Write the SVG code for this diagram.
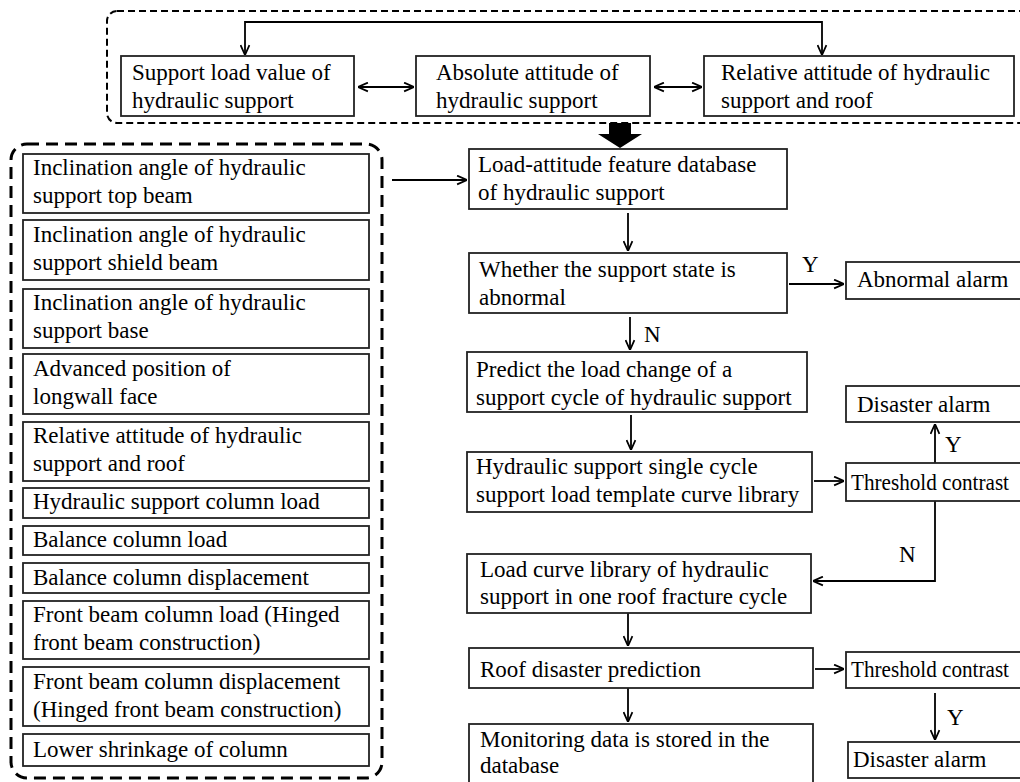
<svg xmlns="http://www.w3.org/2000/svg" width="1020" height="782" viewBox="0 0 1020 782">
<style>
.bx{fill:#fff;stroke:#222;stroke-width:1.8}
.t{font-family:"Liberation Serif","Times New Roman",serif;font-size:23px;fill:#000}
.c{fill:none;stroke:#000;stroke-width:1.8}
.dash1{fill:none;stroke:#000;stroke-width:2;stroke-dasharray:7 4}
.dash2{fill:none;stroke:#000;stroke-width:3;stroke-dasharray:12 7}
</style>
<defs>
<marker id="ah" viewBox="0 0 10 10" refX="10" refY="5" markerWidth="11" markerHeight="11" markerUnits="userSpaceOnUse" orient="auto-start-reverse">
<path d="M1,1 L10,5 L1,9" fill="none" stroke="#000" stroke-width="1.6"/>
</marker>
</defs>
<rect class="dash1" x="107" y="11" width="940" height="112" rx="10"/>
<rect class="dash2" x="11" y="144" width="371" height="634" rx="16"/>
<g id="connectors">
<path class="c" d="M245,55 V22 H822 V55" marker-start="url(#ah)" marker-end="url(#ah)"/>
<line class="c" x1="358" y1="87" x2="414" y2="87" marker-start="url(#ah)" marker-end="url(#ah)"/>
<line class="c" x1="654" y1="87" x2="702" y2="87" marker-start="url(#ah)" marker-end="url(#ah)"/>
<polygon points="609,123 631,123 631,134 642,134 620,148 598,134 609,134" fill="#000"/>
<line class="c" x1="392" y1="180" x2="467" y2="180" marker-end="url(#ah)"/>
<line class="c" x1="628" y1="213" x2="628" y2="251" marker-end="url(#ah)"/>
<line class="c" x1="789" y1="284" x2="844" y2="284" marker-end="url(#ah)"/>
<line class="c" x1="630" y1="317" x2="630" y2="350" marker-end="url(#ah)"/>
<line class="c" x1="631" y1="415" x2="631" y2="450" marker-end="url(#ah)"/>
<line class="c" x1="814" y1="481" x2="844" y2="481" marker-end="url(#ah)"/>
<line class="c" x1="935" y1="463" x2="935" y2="424" marker-end="url(#ah)"/>
<path class="c" d="M935,501 V581 H813" marker-end="url(#ah)"/>
<line class="c" x1="628" y1="613" x2="628" y2="646" marker-end="url(#ah)"/>
<line class="c" x1="815" y1="669" x2="844" y2="669" marker-end="url(#ah)"/>
<line class="c" x1="935" y1="693" x2="935" y2="740" marker-end="url(#ah)"/>
<line class="c" x1="628" y1="688" x2="628" y2="722" marker-end="url(#ah)"/>
<text class="t" x="802" y="272">Y</text>
<text class="t" x="644" y="342">N</text>
<text class="t" x="945" y="452">Y</text>
<text class="t" x="899" y="562">N</text>
<text class="t" x="947" y="725">Y</text>
</g>
<g id="top1"><rect class="bx" x="121" y="56" width="233" height="60"/><text class="t" x="132" y="80">Support load value of</text><text class="t" x="132" y="108">hydraulic support</text></g>
<g id="top2"><rect class="bx" x="416" y="56" width="234" height="60"/><text class="t" x="436" y="80">Absolute attitude of</text><text class="t" x="436" y="108">hydraulic support</text></g>
<g id="top3"><rect class="bx" x="704" y="56" width="310" height="60"/><text class="t" x="721" y="80">Relative attitude of hydraulic</text><text class="t" x="721" y="108">support and roof</text></g>
<g id="l1"><rect class="bx" x="23" y="154" width="346" height="59"/><text class="t" x="33" y="175">Inclination angle of hydraulic</text><text class="t" x="33" y="203">support top beam</text></g>
<g id="l2"><rect class="bx" x="23" y="220" width="346" height="60"/><text class="t" x="33" y="242">Inclination angle of hydraulic</text><text class="t" x="33" y="270">support shield beam</text></g>
<g id="l3"><rect class="bx" x="23" y="289" width="346" height="59"/><text class="t" x="33" y="310">Inclination angle of hydraulic</text><text class="t" x="33" y="338">support base</text></g>
<g id="l4"><rect class="bx" x="23" y="354" width="346" height="60"/><text class="t" x="33" y="376">Advanced position of</text><text class="t" x="33" y="404">longwall face</text></g>
<g id="l5"><rect class="bx" x="23" y="422" width="346" height="59"/><text class="t" x="33" y="443">Relative attitude of hydraulic</text><text class="t" x="33" y="471">support and roof</text></g>
<g id="l6"><rect class="bx" x="23" y="488" width="346" height="30"/><text class="t" x="33" y="509">Hydraulic support column load</text></g>
<g id="l7"><rect class="bx" x="23" y="526" width="346" height="29"/><text class="t" x="33" y="547">Balance column load</text></g>
<g id="l8"><rect class="bx" x="23" y="563" width="346" height="30"/><text class="t" x="33" y="585">Balance column displacement</text></g>
<g id="l9"><rect class="bx" x="23" y="601" width="346" height="58"/><text class="t" x="33" y="622">Front beam column load (Hinged</text><text class="t" x="33" y="650">front beam construction)</text></g>
<g id="l10"><rect class="bx" x="23" y="667" width="346" height="59"/><text class="t" x="33" y="689">Front beam column displacement</text><text class="t" x="33" y="717">(Hinged front beam construction)</text></g>
<g id="l11"><rect class="bx" x="23" y="734" width="346" height="32"/><text class="t" x="33" y="757">Lower shrinkage of column</text></g>
<g id="load"><rect class="bx" x="469" y="149" width="318" height="60"/><text class="t" x="478" y="172">Load-attitude feature database</text><text class="t" x="478" y="200">of hydraulic support</text></g>
<g id="whether"><rect class="bx" x="469" y="253" width="318" height="60"/><text class="t" x="479" y="277">Whether the support state is</text><text class="t" x="479" y="305">abnormal</text></g>
<g id="abnormal"><rect class="bx" x="846" y="262" width="190" height="37"/><text class="t" x="857" y="287">Abnormal alarm</text></g>
<g id="predict"><rect class="bx" x="467" y="352" width="340" height="60"/><text class="t" x="476" y="377">Predict the load change of a</text><text class="t" x="476" y="405">support cycle of hydraulic support</text></g>
<g id="alarm1"><rect class="bx" x="846" y="386" width="190" height="36"/><text class="t" x="857" y="412">Disaster alarm</text></g>
<g id="single"><rect class="bx" x="467" y="452" width="345" height="60"/><text class="t" x="476" y="474">Hydraulic support single cycle</text><text class="t" x="476" y="502">support load template curve library</text></g>
<g id="thr1"><rect class="bx" x="846" y="463" width="190" height="38"/><text class="t" x="851" y="490" textLength="158" lengthAdjust="spacingAndGlyphs">Threshold contrast</text></g>
<g id="curve"><rect class="bx" x="467" y="554" width="344" height="59"/><text class="t" x="480" y="577">Load curve library of hydraulic</text><text class="t" x="480" y="604">support in one roof fracture cycle</text></g>
<g id="roof"><rect class="bx" x="469" y="648" width="344" height="40"/><text class="t" x="480" y="677">Roof disaster prediction</text></g>
<g id="thr2"><rect class="bx" x="846" y="652" width="190" height="36"/><text class="t" x="851" y="677" textLength="158" lengthAdjust="spacingAndGlyphs">Threshold contrast</text></g>
<g id="alarm2"><rect class="bx" x="848" y="742" width="190" height="36"/><text class="t" x="853" y="767">Disaster alarm</text></g>
<g id="monitor"><rect class="bx" x="469" y="724" width="344" height="70"/><text class="t" x="480" y="747">Monitoring data is stored in the</text><text class="t" x="480" y="773">database</text></g>
</svg>
